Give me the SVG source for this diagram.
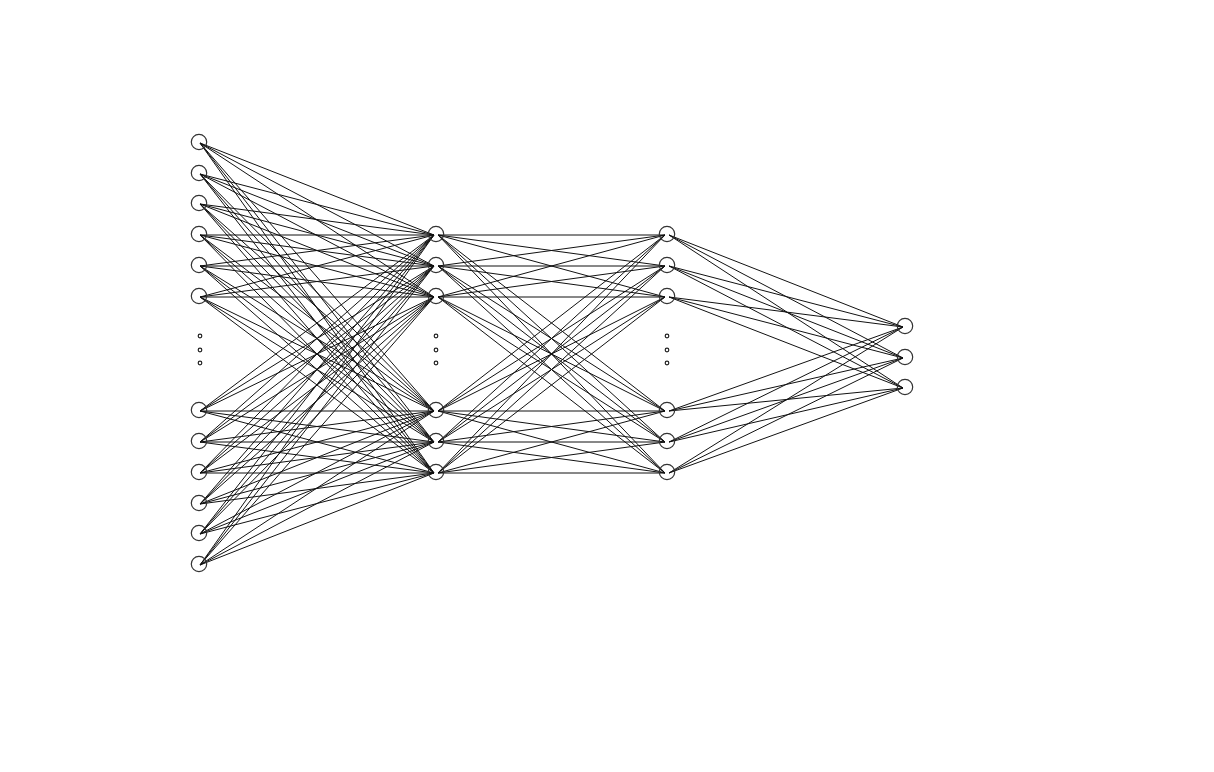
<svg xmlns="http://www.w3.org/2000/svg" width="1214" height="772" viewBox="0 0 1214 772">
<style>
.n{fill:none;stroke:#333;stroke-width:1.2}
.d{fill:none;stroke:#222;stroke-width:1.2}
.e{fill:none;stroke:#111;stroke-width:1}
</style>
<rect width="1214" height="772" fill="#fff"/>
<g id="connectors">
<path class="e" d="M200 143L434 235M200 143L434 266M200 143L434 297M200 143L434 411M200 143L434 442M200 143L434 473
M200 174L434 235M200 174L434 266M200 174L434 297M200 174L434 411M200 174L434 442M200 174L434 473
M200 204L434 235M200 204L434 266M200 204L434 297M200 204L434 411M200 204L434 442M200 204L434 473
M200 235L434 235M200 235L434 266M200 235L434 297M200 235L434 411M200 235L434 442M200 235L434 473
M200 266L434 235M200 266L434 266M200 266L434 297M200 266L434 411M200 266L434 442M200 266L434 473
M200 297L434 235M200 297L434 266M200 297L434 297M200 297L434 411M200 297L434 442M200 297L434 473
M200 411L434 235M200 411L434 266M200 411L434 297M200 411L434 411M200 411L434 442M200 411L434 473
M200 442L434 235M200 442L434 266M200 442L434 297M200 442L434 411M200 442L434 442M200 442L434 473
M200 473L434 235M200 473L434 266M200 473L434 297M200 473L434 411M200 473L434 442M200 473L434 473
M200 504L434 235M200 504L434 266M200 504L434 297M200 504L434 411M200 504L434 442M200 504L434 473
M200 534L434 235M200 534L434 266M200 534L434 297M200 534L434 411M200 534L434 442M200 534L434 473
M200 565L434 235M200 565L434 266M200 565L434 297M200 565L434 411M200 565L434 442M200 565L434 473"/>
<path class="e" d="M438 235L665 235M438 235L665 266M438 235L665 297M438 235L665 411M438 235L665 442M438 235L665 473
M438 266L665 235M438 266L665 266M438 266L665 297M438 266L665 411M438 266L665 442M438 266L665 473
M438 297L665 235M438 297L665 266M438 297L665 297M438 297L665 411M438 297L665 442M438 297L665 473
M438 411L665 235M438 411L665 266M438 411L665 297M438 411L665 411M438 411L665 442M438 411L665 473
M438 442L665 235M438 442L665 266M438 442L665 297M438 442L665 411M438 442L665 442M438 442L665 473
M438 473L665 235M438 473L665 266M438 473L665 297M438 473L665 411M438 473L665 442M438 473L665 473"/>
<path class="e" d="M669 235L903 327M669 235L903 358M669 235L903 388
M669 266L903 327M669 266L903 358M669 266L903 388
M669 297L903 327M669 297L903 358M669 297L903 388
M669 411L903 327M669 411L903 358M669 411L903 388
M669 442L903 327M669 442L903 358M669 442L903 388
M669 473L903 327M669 473L903 358M669 473L903 388"/>
</g>
<g id="input-layer">
<circle id="in1" class="n" cx="199" cy="142" r="7.7"/>
<circle id="in2" class="n" cx="199" cy="173" r="7.7"/>
<circle id="in3" class="n" cx="199" cy="203" r="7.7"/>
<circle id="in4" class="n" cx="199" cy="234" r="7.7"/>
<circle id="in5" class="n" cx="199" cy="265" r="7.7"/>
<circle id="in6" class="n" cx="199" cy="296" r="7.7"/>
<circle id="in7" class="n" cx="199" cy="410" r="7.7"/>
<circle id="in8" class="n" cx="199" cy="441" r="7.7"/>
<circle id="in9" class="n" cx="199" cy="472" r="7.7"/>
<circle id="in10" class="n" cx="199" cy="503" r="7.7"/>
<circle id="in11" class="n" cx="199" cy="533" r="7.7"/>
<circle id="in12" class="n" cx="199" cy="564" r="7.7"/>
<circle class="d" cx="200" cy="336" r="1.8"/>
<circle class="d" cx="200" cy="350" r="1.8"/>
<circle class="d" cx="200" cy="363" r="1.8"/>
</g>
<g id="hidden-layer-1">
<circle id="h1n1" class="n" cx="436" cy="234" r="7.7"/>
<circle id="h1n2" class="n" cx="436" cy="265" r="7.7"/>
<circle id="h1n3" class="n" cx="436" cy="296" r="7.7"/>
<circle id="h1n4" class="n" cx="436" cy="410" r="7.7"/>
<circle id="h1n5" class="n" cx="436" cy="441" r="7.7"/>
<circle id="h1n6" class="n" cx="436" cy="472" r="7.7"/>
<circle class="d" cx="436" cy="336" r="1.8"/>
<circle class="d" cx="436" cy="350" r="1.8"/>
<circle class="d" cx="436" cy="363" r="1.8"/>
</g>
<g id="hidden-layer-2">
<circle id="h2n1" class="n" cx="667" cy="234" r="7.7"/>
<circle id="h2n2" class="n" cx="667" cy="265" r="7.7"/>
<circle id="h2n3" class="n" cx="667" cy="296" r="7.7"/>
<circle id="h2n4" class="n" cx="667" cy="410" r="7.7"/>
<circle id="h2n5" class="n" cx="667" cy="441" r="7.7"/>
<circle id="h2n6" class="n" cx="667" cy="472" r="7.7"/>
<circle class="d" cx="667" cy="336" r="1.8"/>
<circle class="d" cx="667" cy="350" r="1.8"/>
<circle class="d" cx="667" cy="363" r="1.8"/>
</g>
<g id="output-layer">
<circle id="out1" class="n" cx="905" cy="326" r="7.7"/>
<circle id="out2" class="n" cx="905" cy="357" r="7.7"/>
<circle id="out3" class="n" cx="905" cy="387" r="7.7"/>
</g>
</svg>
